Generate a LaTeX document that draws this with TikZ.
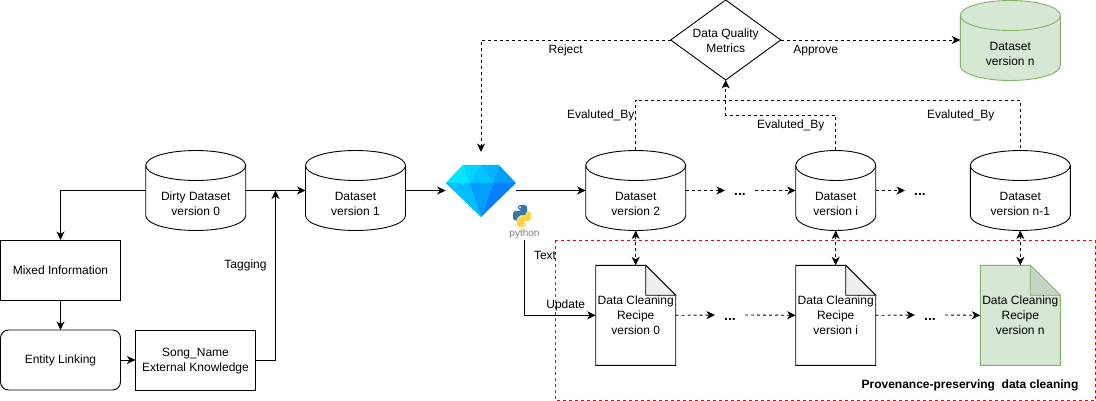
\documentclass[tikz,border=0pt]{standalone}
\usepackage{fontspec}
\setmainfont{Liberation Sans}
\usetikzlibrary{arrows.meta,shapes.geometric}
\definecolor{gfill}{HTML}{D5E8D4}
\definecolor{gline}{HTML}{82B366}
\definecolor{gfold}{HTML}{C6D6C5}
\definecolor{wfold}{HTML}{EEEEEE}
\tikzset{
  every node/.style={font=\fontsize{12}{15}\selectfont,inner sep=0pt,outer sep=0pt,align=center},
  tip/.style={-{Stealth[length=8.5pt,width=8pt,inset=2.5pt]}},
  twotip/.style={{Stealth[length=8.5pt,width=8pt,inset=2.5pt]}-{Stealth[length=8.5pt,width=8pt,inset=2.5pt]}},
  conn/.style={line width=0.9pt,tip},
  dconn/.style={line width=0.9pt,dash pattern=on 3pt off 3pt,tip},
  dline/.style={line width=0.9pt,dash pattern=on 3pt off 3pt},
  dtwo/.style={line width=0.9pt,dash pattern=on 3pt off 3pt,twotip},
  boxnode/.style={draw,line width=0.9pt,minimum width=120pt,minimum height=60pt},
  anchorbox/.style={minimum width=#1,minimum height=80pt},
  dotsnode/.style={font=\fontsize{14}{15}\selectfont\bfseries,minimum width=30pt,text height=10pt,text depth=0pt},
}
% name, left, top, width, height, stroke, fill, text
\newcommand{\cylshape}[8]{%
  \begin{scope}[shift={(#2,#3)}]
    \draw[line width=0.9pt,draw=#6,fill=#7]
      (0,15) .. controls (0,6.7) and ({#4*0.22},0) .. ({#4*0.5},0)
             .. controls ({#4*0.78},0) and (#4,6.7) .. (#4,15)
             -- (#4,{#5-15})
             .. controls (#4,{#5-6.7}) and ({#4*0.78},#5) .. ({#4*0.5},#5)
             .. controls ({#4*0.22},#5) and (0,{#5-6.7}) .. (0,{#5-15}) -- cycle;
    \draw[line width=0.9pt,draw=#6]
      (0,15) .. controls (0,23.3) and ({#4*0.22},30) .. ({#4*0.5},30)
             .. controls ({#4*0.78},30) and (#4,23.3) .. (#4,15);
    \node[anchorbox=#4 pt] (#1) at ({#4*0.5},{#5*0.5}) {};
    \node (#1t) at ({#4*0.5},{#5*0.5+13}) {#8};
  \end{scope}}
% name, left, top, stroke, fill, fold fill, text
\newcommand{\docshape}[7]{%
  \begin{scope}[shift={(#2,#3)}]
    \draw[line width=0.9pt,draw=#4,fill=#5]
      (0,0) -- (50,0) -- (80,30) -- (80,100) -- (0,100) -- cycle;
    \draw[line width=0.7pt,draw=#4,fill=#6]
      (50,0) -- (50,30) -- (80,30) -- cycle;
    \node[minimum width=80pt,minimum height=100pt] (#1) at (40,50) {};
    \node (#1t) at (40,50) {#7};
  \end{scope}}
\begin{document}
\begin{tikzpicture}[x=1pt,y=-1pt]
\useasboundingbox (0,0) rectangle (1096,401);
\fill[white] (0,0) rectangle (1096,401);

% provenance frame
\draw[red,line width=0.8pt,dash pattern=on 3pt off 3pt] (555.7,240) rectangle (1095.3,400.5);

% cylinders
\cylshape{dirty}{145.7}{150.5}{100}{80}{black}{white}{Dirty Dataset\\version 0}
\cylshape{dsone}{305.5}{150.5}{100}{80}{black}{white}{Dataset\\version 1}
\cylshape{dstwo}{585.7}{150.5}{100}{80}{black}{white}{Dataset\\version 2}
\cylshape{dsi}{795.7}{150.5}{80}{80}{black}{white}{Dataset\\version i}
\cylshape{dsnm}{970.3}{150.5}{100}{80}{black}{white}{Dataset\\version n-1}
\cylshape{dsn}{960.3}{0.5}{100}{80}{gline}{gfill}{Dataset\\version n}

% diamond
\node[diamond,draw,line width=0.9pt,minimum width=110pt,minimum height=80pt,aspect=1.375] (dq) at (725.7,40) {};
\node (dqt) at (725.7,40.5) {Data Quality\\Metrics};

% left boxes
\node[boxnode] (mixed) at (60.5,270) {Mixed Information};
\node[boxnode,rounded corners=8pt] (entity) at (60.5,360) {};
\node (entityt) at (60.5,360.7) {Entity Linking};
\node[boxnode] (song) at (195.5,360) {};
\node (songt) at (195.5,360.7) {Song\_Name\\External Knowledge};

% documents
\docshape{dcz}{595.7}{265.3}{black}{white}{wfold}{Data Cleaning\\Recipe\\version 0}
\docshape{dci}{795.7}{265.3}{black}{white}{wfold}{Data Cleaning\\Recipe\\version i}
\docshape{dcn}{980.3}{265.3}{gline}{gfill}{gfold}{Data Cleaning\\Recipe\\version n}

% gem
\node[minimum width=70.3pt,minimum height=52pt] (gem) at (480.85,191) {};
\fill[fill={rgb,255:red,0;green,232;blue,255}] (445.7,183) -- (462.7,165) -- (469,183) -- cycle;
\fill[fill={rgb,255:red,0;green,212;blue,255}] (462.7,165) -- (481,165) -- (469,183) -- cycle;
\fill[fill={rgb,255:red,0;green,195;blue,255}] (481,165) -- (493,183) -- (469,183) -- cycle;
\fill[fill={rgb,255:red,0;green,180;blue,255}] (481,165) -- (499,165) -- (493,183) -- cycle;
\fill[fill={rgb,255:red,0;green,160;blue,255}] (499,165) -- (516,183) -- (493,183) -- cycle;
\fill[fill={rgb,255:red,0;green,190;blue,255}] (445.7,183) -- (469,183) -- (481,217) -- cycle;
\fill[fill={rgb,255:red,0;green,158;blue,255}] (469,183) -- (493,183) -- (481,217) -- cycle;
\fill[fill={rgb,255:red,0;green,128;blue,255}] (493,183) -- (516,183) -- (481,217) -- cycle;

% python logo
\fill[fill={rgb,255:red,55;green,118;blue,171},rounded corners=1.8pt]
  (518,205) -- (527,205) -- (527,215.5) -- (518.5,215.5) -- (518.5,220.5) -- (513,220.5) -- (513,211) -- (522,211) -- (522,210) -- (518,210) -- cycle;
\fill[fill={rgb,255:red,255;green,211;blue,67},rounded corners=1.8pt]
  (526,227) -- (517,227) -- (517,216.5) -- (525.5,216.5) -- (525.5,211.5) -- (531,211.5) -- (531,221) -- (522,221) -- (522,222) -- (526,222) -- cycle;
\fill[white] (520,207.4) circle (0.9);
\fill[white] (524,224.6) circle (0.9);
\node[font=\fontsize{10}{10}\selectfont,text=black!50,minimum height=12pt] (py) at (524.5,234) {python};

% helpers
\coordinate (tagend) at (275.5,190.5);
\coordinate (rejend) at (481,152);
\coordinate (evaltop) at (800,100);
\coordinate (evalmid) at (780,115.5);

% dots
\node[dotsnode] (dota) at (740,190.5) {...};
\node[dotsnode] (dotb) at (920,190.5) {...};
\node[dotsnode] (dotc) at (730,315) {...};
\node[dotsnode] (dotd) at (930,315) {...};

% solid connectors
\draw[conn] (dirty.east) -- (dsone.west);
\draw[conn] (dirty.west) -| (mixed.north);
\draw[conn] (mixed) -- (entity);
\draw[conn] (entity) -- (song);
\draw[conn] (song.east) -| (tagend);
\draw[conn] (dsone.east) -- (gem.west |- dsone.east);
\draw[conn] (gem.east |- dstwo.west) -- (dstwo.west);
\draw[conn] (py.south) |- (dcz.west);

% dashed connectors
\draw[dconn] (dq.west) -| (rejend);
\draw[dconn] (dq.east) -- (dsn.west |- dq.east);
\draw[dline] (dstwo.north) |- (evaltop) -| (dsnm.north);
\draw[dconn] (dsi.north) |- (evalmid) -| (dq.south);
\draw[dconn] (dstwo.east) -- (dota.west);
\draw[dconn] (dota.east) -- (dsi.west);
\draw[dconn] (dsi.east) -- (dotb.west);
\draw[dconn] (dcz.east) -- (dotc.west);
\draw[dconn] (dotc.east) -- (dci.west);
\draw[dconn] (dci.east) -- (dotd.west);
\draw[dconn] (dotd.east) -- (dcn.west);
\draw[dtwo] (dstwo.south) -- (dcz.north);
\draw[dtwo] (dsi.south) -- (dci.north);
\draw[dtwo] (dcn.north |- dsnm.south) -- (dcn.north);

% labels
\node (ltag) at (245.5,265.7) {Tagging};
\node (ltext) at (545,255.7) {Text};
\node (lupd) at (565.7,305.7) {Update};
\node (lrej) at (565.7,50.7) {Reject};
\node (lapp) at (815.7,50.7) {Approve};
\node (leva) at (600.7,115.7) {Evaluted\_By};
\node (levb) at (790.7,125.7) {Evaluted\_By};
\node (levc) at (960.7,115.7) {Evaluted\_By};
\node[font=\fontsize{12}{14}\selectfont\bfseries] (lprov) at (970,385.3) {Provenance-preserving\ \ data cleaning};
\end{tikzpicture}
\end{document}
